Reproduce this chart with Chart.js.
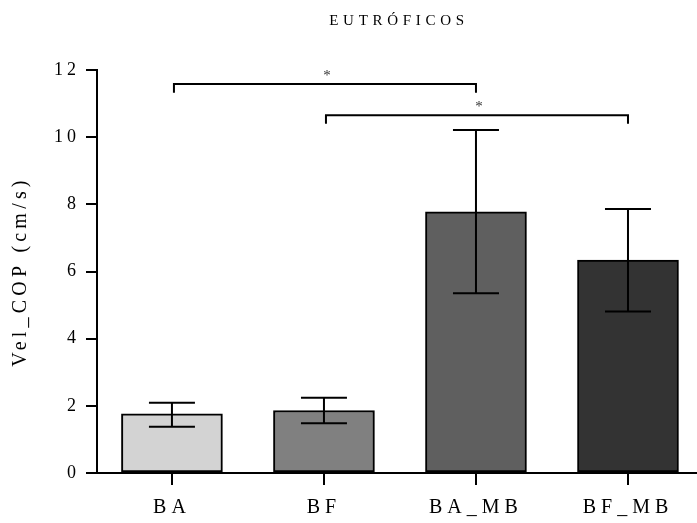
<!DOCTYPE html>
<html>
<head>
<meta charset="utf-8">
<script src="https://cdn.jsdelivr.net/npm/chart.js@4"></script>
<style>
  html, body { margin: 0; padding: 0; background: #fff; }
  #wrap { width: 697px; height: 523px; }
</style>
</head>
<body>
<div id="wrap"><canvas id="myChart" width="697" height="523"></canvas></div>
<script>
// data
const categories = ['BA', 'BF', 'BA_MB', 'BF_MB'];
const means = [1.76, 1.86, 7.78, 6.34];
const errUpper = [2.09, 2.24, 10.21, 7.86];
const errLower = [1.38, 1.48, 5.35, 4.81];
const barColors = ['#d3d3d3', '#808080', '#5f5f5f', '#333333'];
const yTicks = [0, 2, 4, 6, 8, 10, 12];

// significance brackets
const bracketFrom = [0, 1];
const bracketTo = [2, 3];
const bracketLevel = [11.58, 10.65];
const bracketDrop = [11.32, 10.4];
const bracketLabel = ['*', '*'];

const FONT = "'Liberation Serif', 'Times New Roman', serif";

// wide letter spacing like the original export
function spaced(scale, fn, px) {
  const orig = scale[fn];
  scale[fn] = function () {
    const c = this.ctx;
    const old = c.letterSpacing;
    c.letterSpacing = px;
    orig.apply(this, arguments);
    c.letterSpacing = old;
  };
}

const spacing = {
  id: 'spacing',
  beforeLayout(chart) { chart.ctx.letterSpacing = '4px'; },
  beforeDraw(chart) {
    chart.ctx.letterSpacing = '4px';
    if (!chart._spaced) {
      spaced(chart.scales.x, 'drawLabels', '5px');
      spaced(chart.scales.y, 'drawTitle', '4.2px');
      chart._spaced = true;
    }
  }
};

const extras = {
  id: 'extras',
  afterDatasetsDraw(chart) {
    const ctx = chart.ctx;
    const xs = chart.scales.x, ys = chart.scales.y;
    ctx.save();
    ctx.strokeStyle = '#000';
    ctx.lineWidth = 2;
    // error bars
    means.forEach((m, i) => {
      const px = xs.getPixelForValue(i);
      const top = ys.getPixelForValue(errUpper[i]);
      const bot = ys.getPixelForValue(errLower[i]);
      ctx.beginPath();
      ctx.moveTo(px, top); ctx.lineTo(px, bot);
      ctx.moveTo(px - 23, top); ctx.lineTo(px + 23, top);
      ctx.moveTo(px - 23, bot); ctx.lineTo(px + 23, bot);
      ctx.stroke();
    });
    // brackets
    bracketFrom.forEach((a, k) => {
      const x1 = xs.getPixelForValue(a) + 2;
      const x2 = xs.getPixelForValue(bracketTo[k]);
      const y = ys.getPixelForValue(bracketLevel[k]);
      const yd = ys.getPixelForValue(bracketDrop[k]);
      ctx.beginPath();
      ctx.moveTo(x1, yd); ctx.lineTo(x1, y); ctx.lineTo(x2, y); ctx.lineTo(x2, yd);
      ctx.stroke();
      ctx.letterSpacing = '0px';
      ctx.fillStyle = '#333';
      ctx.font = '15px ' + FONT;
      ctx.textAlign = 'center';
      ctx.textBaseline = 'middle';
      ctx.fillText(bracketLabel[k], (x1 + x2) / 2 + 2, y - 8);
    });
    // title
    ctx.letterSpacing = '4.7px';
    ctx.fillStyle = '#000';
    ctx.font = '15px ' + FONT;
    ctx.textAlign = 'center';
    ctx.textBaseline = 'middle';
    ctx.fillText('EUTRÓFICOS', (chart.chartArea.left + chart.chartArea.right) / 2 + 2, 21);
    ctx.restore();
  }
};

const ctx = document.getElementById('myChart').getContext('2d');
const myChart = new Chart(ctx, {
  type: 'bar',
  data: {
    datasets: [{
      data: means.map((v, i) => ({ x: i, y: v })),
      backgroundColor: barColors,
      borderColor: '#000',
      borderWidth: 2,
      borderSkipped: false,
      barThickness: 101,
    }],
  },
  options: {
    responsive: false,
    animation: false,
    layout: { padding: { top: 70, right: 0, left: 0, bottom: 0 } },
    plugins: { legend: { display: false }, tooltip: { enabled: false } },
    scales: {
      x: {
        type: 'linear',
        offset: false,
        min: -0.493,
        max: 3.454,
        afterBuildTicks(scale) { scale.ticks = categories.map((c, i) => ({ value: i })); },
        afterFit(scale) { scale.height = 50; },
        ticks: {
          callback: (v) => categories[v],
          color: '#000',
          font: { family: FONT, size: 20 },
          padding: 11,
          maxRotation: 0,
          autoSkip: false,
        },
        grid: { offset: false, drawOnChartArea: false, tickLength: 12, color: '#000', lineWidth: 2 },
        border: { color: '#000', width: 2 },
      },
      y: {
        min: 0,
        max: 12,
        afterBuildTicks(scale) { scale.ticks = yTicks.map((v) => ({ value: v })); },
        afterFit(scale) { scale.width = 97; },
        ticks: {
          color: '#000',
          font: { family: FONT, size: 18 },
          padding: 6,
        },
        grid: { drawOnChartArea: false, tickLength: 11, color: '#000', lineWidth: 2 },
        border: { color: '#000', width: 2 },
        title: {
          display: true,
          text: 'Vel_COP (cm/s)',
          color: '#000',
          font: { family: FONT, size: 20 },
          padding: { top: 9, bottom: 0 },
        },
      },
    },
  },
  plugins: [spacing, extras],
});
</script>
</body>
</html>
